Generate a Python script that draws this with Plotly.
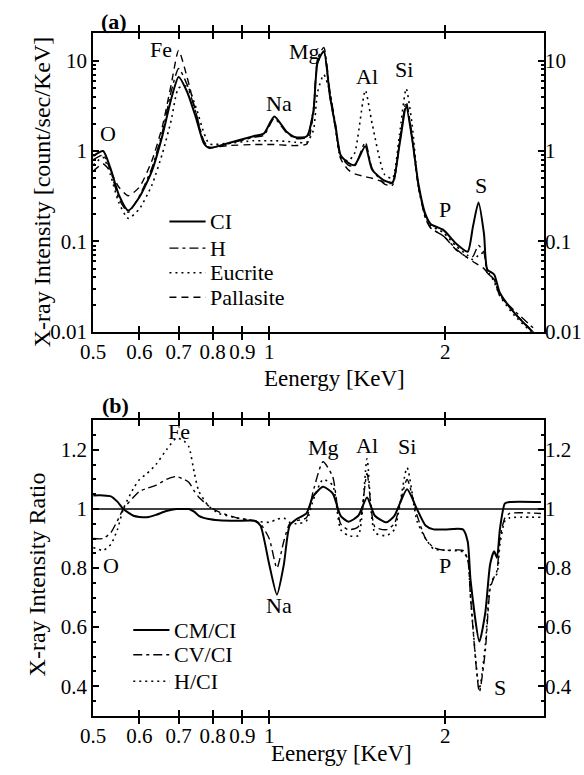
import math
import plotly.graph_objects as go

# ---------------- data: panel (a) X-ray intensity [count/sec/keV] ----------------
E_a = [0.500, 0.520, 0.535, 0.553, 0.574, 0.600, 0.630, 0.657, 0.680, 0.700,
       0.724, 0.750, 0.773, 0.790, 0.850, 0.940, 0.980, 1.020, 1.070, 1.110,
       1.160, 1.190, 1.210, 1.240, 1.270, 1.300, 1.325, 1.365, 1.400, 1.460,
       1.500, 1.575, 1.625, 1.670, 1.715, 1.755, 1.800, 1.850, 1.890, 1.985,
       2.090, 2.185, 2.230, 2.280, 2.330, 2.360, 2.425, 2.480, 2.630, 2.830]
CI = [0.88, 1.00, 0.65, 0.33, 0.22, 0.31, 0.60, 1.50, 3.8, 6.6,
      4.5, 2.3, 1.22, 1.08, 1.22, 1.46, 1.57, 2.41, 1.65, 1.42,
      1.46, 2.74, 9.6, 12.7, 4.1, 1.78, 0.90, 0.74, 0.70, 1.13,
      0.62, 0.47, 0.45, 1.16, 3.1, 1.39, 0.43, 0.20, 0.155, 0.134,
      0.094, 0.077, 0.144, 0.27, 0.121, 0.049, 0.043, 0.027, 0.016, 0.0098]
H = [0.80, 0.90, 0.62, 0.30, 0.21, 0.32, 0.65, 1.65, 4.6, 8.2,
     5.4, 2.6, 1.30, 1.10, 1.20, 1.42, 1.50, 2.30, 1.60, 1.38,
     1.42, 2.90, 10.5, 14.0, 4.6, 1.90, 0.88, 0.70, 0.68, 1.25,
     0.64, 0.43, 0.42, 1.25, 3.5, 1.50, 0.40, 0.18, 0.14, 0.115,
     0.082, 0.066, 0.068, 0.090, 0.075, 0.045, 0.038, 0.025, 0.017, 0.011]
EUCRITE = [0.70, 0.85, 0.55, 0.27, 0.18, 0.23, 0.42, 0.95, 2.2, 5.0,
           5.2, 3.0, 1.60, 1.20, 1.22, 1.30, 1.30, 1.30, 1.28, 1.25,
           1.25, 1.70, 4.5, 7.0, 4.5, 1.70, 0.85, 0.78, 0.95, 4.7,
           2.0, 0.55, 0.50, 1.5, 4.9, 2.0, 0.40, 0.19, 0.15, 0.125,
           0.088, 0.070, 0.063, 0.070, 0.075, 0.048, 0.036, 0.025, 0.015, 0.0095]
PALLASITE = [0.60, 0.72, 0.60, 0.40, 0.32, 0.40, 0.78, 1.9, 5.5, 13.0,
             6.5, 2.6, 1.25, 1.10, 1.15, 1.18, 1.18, 1.18, 1.16, 1.15,
             1.20, 2.6, 9.5, 12.5, 4.0, 1.70, 0.82, 0.62, 0.56, 0.52,
             0.50, 0.45, 0.44, 1.2, 3.3, 1.40, 0.40, 0.19, 0.14, 0.115,
             0.080, 0.066, 0.060, 0.055, 0.050, 0.045, 0.038, 0.026, 0.016, 0.010]
NAMES_A = ["CI", "H", "Eucrite", "Pallasite"]

# ---------------- data: panel (b) X-ray intensity ratio ----------------
E_b = [0.500, 0.520, 0.536, 0.550, 0.563, 0.586, 0.600, 0.618, 0.640, 0.667,
       0.694, 0.715, 0.729, 0.745, 0.758, 0.788, 0.820, 0.880, 0.944, 0.966,
       1.000, 1.031, 1.059, 1.084, 1.114, 1.158, 1.189, 1.236, 1.284, 1.325,
       1.366, 1.420, 1.470, 1.516, 1.587, 1.637, 1.721, 1.789, 1.851, 1.910,
       2.000, 2.144, 2.185, 2.210, 2.288, 2.342, 2.387, 2.425, 2.452, 2.481,
       2.530, 2.578, 2.916]
CM_CI = [1.046, 1.046, 1.043, 1.025, 1.000, 0.977, 0.973, 0.972, 0.980, 0.993,
         1.000, 1.000, 1.000, 0.990, 0.977, 0.966, 0.962, 0.960, 0.960, 0.944,
         0.813, 0.710, 0.810, 0.944, 0.966, 0.985, 1.043, 1.075, 1.053, 0.977,
         0.957, 0.977, 1.039, 0.977, 0.955, 0.977, 1.067, 1.000, 0.944, 0.931,
         0.931, 0.931, 0.890, 0.758, 0.551, 0.649, 0.813, 0.857, 0.835, 0.933,
         1.019, 1.024, 1.024]
CV_CI = [0.90, 0.90, 0.92, 0.96, 1.00, 1.04, 1.06, 1.07, 1.08, 1.10,
         1.11, 1.10, 1.09, 1.06, 1.04, 1.01, 0.99, 0.97, 0.96, 0.95,
         0.90, 0.80, 0.89, 0.95, 0.96, 0.97, 1.06, 1.16, 1.11, 0.95,
         0.93, 0.94, 1.12, 0.94, 0.93, 0.95, 1.10, 0.98, 0.90, 0.87,
         0.86, 0.86, 0.83, 0.70, 0.38, 0.52, 0.73, 0.77, 0.79, 0.90,
         0.97, 0.985, 0.985]
H_CI = [0.87, 0.86, 0.88, 0.93, 1.00, 1.07, 1.10, 1.12, 1.15, 1.20,
        1.24, 1.23, 1.21, 1.12, 1.06, 1.01, 0.985, 0.97, 0.96, 0.957,
        0.955, 0.965, 0.970, 0.955, 0.950, 0.960, 1.03, 1.10, 1.08, 0.93,
        0.91, 0.91, 1.17, 0.92, 0.91, 0.93, 1.14, 0.96, 0.90, 0.865,
        0.86, 0.855, 0.83, 0.70, 0.39, 0.54, 0.74, 0.77, 0.78, 0.88,
        0.96, 0.97, 0.972]
NAMES_B = ["CM/CI", "CV/CI", "H/CI"]
REF_LEVEL = 1.0

# element labels
EL_A = ["O", "Fe", "Na", "Mg", "Al", "Si", "P", "S"]
EL_A_X = [0.530, 0.652, 1.040, 1.149, 1.470, 1.700, 2.000, 2.300]
EL_A_Y = [1.57, 13.4, 3.35, 12.7, 6.6, 7.9, 0.227, 0.414]
EL_B = ["O", "Fe", "Na", "Mg", "Al", "Si", "P", "S"]
EL_B_X = [0.536, 0.700, 1.040, 1.240, 1.470, 1.720, 2.000, 2.480]
EL_B_Y = [0.807, 1.262, 0.672, 1.207, 1.216, 1.213, 0.807, 0.397]

X_TICKS = [0.5, 0.6, 0.7, 0.8, 0.9, 1, 2]
X_TICKTEXT = ["0.5", "0.6", "0.7", "0.8", "0.9", "1", "2"]
YA_TICKS = [0.01, 0.1, 1, 10]
YA_TICKTEXT = ["0.01", "0.1", "1", "10"]
YB_TICKS = [0.4, 0.6, 0.8, 1.0, 1.2]
YB_TICKTEXT = ["0.4", "0.6", "0.8", "1", "1.2"]

# ---------------- figure ----------------
W, HGT = 584, 775
FONT = "'Liberation Serif', 'Times New Roman', 'DejaVu Serif', serif"
FS_TICK = 21
FS_LAB = 22
FS_TITLE = 24
FS_XTITLE = 23
FS_LEG = 22

def px_x(p):
    return p / W

def px_y(p):
    return 1 - p / HGT

XDOM = [px_x(82), px_x(543)]
YDOM_A = [px_y(337), px_y(34)]
YDOM_B = [px_y(727), px_y(427)]
XRANGE = [math.log10(0.5), math.log10(2.95)]

fig = go.Figure()

styles_a = [dict(color="black", width=2.0),
            dict(color="black", width=1.4, dash="9px,4px,3px,4px"),
            dict(color="black", width=1.6, dash="2px,4px"),
            dict(color="black", width=1.4, dash="7px,5px")]
for name, ys, st in zip(NAMES_A, [CI, H, EUCRITE, PALLASITE], styles_a):
    fig.add_trace(go.Scatter(x=E_a, y=ys, mode="lines", name=name, showlegend=False,
                             line=dict(shape="spline", smoothing=0.6, **st),
                             xaxis="x", yaxis="y"))

styles_b = [dict(color="black", width=2.0),
            dict(color="black", width=1.4, dash="9px,4px,3px,4px"),
            dict(color="black", width=1.6, dash="2px,4px")]
for name, ys, st in zip(NAMES_B, [CM_CI, CV_CI, H_CI], styles_b):
    fig.add_trace(go.Scatter(x=E_b, y=ys, mode="lines", name=name, showlegend=False,
                             line=dict(shape="spline", smoothing=0.6, **st),
                             xaxis="x2", yaxis="y2"))

# empty traces to activate the right-side label axes
fig.add_trace(go.Scatter(x=[], y=[], xaxis="x", yaxis="y3", showlegend=False))
fig.add_trace(go.Scatter(x=[], y=[], xaxis="x2", yaxis="y4", showlegend=False))

shapes = [dict(type="line", xref="x2 domain", x0=0, x1=1, yref="y2",
               y0=REF_LEVEL, y1=REF_LEVEL, line=dict(color="black", width=1.5))]

axis_common = dict(showline=True, linewidth=2, linecolor="black", showgrid=False,
                   zeroline=False, ticks="inside", ticklen=6, tickwidth=1.5,
                   tickcolor="black",
                   tickfont=dict(family=FONT, size=FS_TICK, color="black"))

xax = dict(type="log", range=XRANGE, domain=XDOM, tickmode="array",
           tickvals=X_TICKS, ticktext=X_TICKTEXT, mirror="allticks", **axis_common)
minor_log = [m * 10 ** k for k in range(-2, 2) for m in range(2, 10)]

fig.update_layout(
    width=W, height=HGT, margin=dict(l=0, r=0, t=0, b=0),
    paper_bgcolor="white", plot_bgcolor="white",
    font=dict(family=FONT, size=FS_TICK, color="black"),
    showlegend=False,
    xaxis=dict(anchor="y", **xax),
    xaxis2=dict(anchor="y2", **xax),
    yaxis=dict(type="log", range=[-2, math.log10(20)], domain=YDOM_A, anchor="x",
               tickmode="array", tickvals=YA_TICKS, ticktext=YA_TICKTEXT,
               mirror="allticks",
               minor=dict(tickmode="array", tickvals=minor_log, ticks="inside",
                          ticklen=3, tickcolor="black"),
               **axis_common),
    yaxis3=dict(type="log", range=[-2, math.log10(20)], overlaying="y", side="right",
                anchor="x", tickmode="array", tickvals=YA_TICKS, ticktext=YA_TICKTEXT,
                showline=False, showgrid=False, zeroline=False, ticks="",
                tickfont=dict(family=FONT, size=FS_TICK, color="black")),
    yaxis2=dict(range=[0.3, 1.3], domain=YDOM_B, anchor="x2", tickmode="array",
                tickvals=YB_TICKS, ticktext=YB_TICKTEXT, mirror="allticks",
                minor=dict(dtick=0.05, ticks="inside", ticklen=3, tickcolor="black"),
                **axis_common),
    yaxis4=dict(range=[0.3, 1.3], overlaying="y2", side="right", anchor="x2",
                tickmode="array", tickvals=YB_TICKS, ticktext=YB_TICKTEXT,
                showline=False, showgrid=False, zeroline=False, ticks="",
                tickfont=dict(family=FONT, size=FS_TICK, color="black")),
)

ann = []
for t, x, y in zip(EL_A, EL_A_X, EL_A_Y):
    ann.append(dict(x=math.log10(x), y=math.log10(y), xref="x", yref="y", text=t,
                    showarrow=False, xanchor="center", yanchor="middle",
                    font=dict(family=FONT, size=FS_LAB)))
for t, x, y in zip(EL_B, EL_B_X, EL_B_Y):
    ann.append(dict(x=math.log10(x), y=y, xref="x2", yref="y2", text=t,
                    showarrow=False, xanchor="center", yanchor="middle",
                    font=dict(family=FONT, size=FS_LAB)))

def paper_text(text, x, y, size, angle=0, xanchor="center"):
    return dict(x=px_x(x), y=px_y(y), xref="paper", yref="paper", text=text,
                textangle=angle, showarrow=False, xanchor=xanchor, yanchor="middle",
                font=dict(family=FONT, size=size))

ann += [
    paper_text("<b>(a)</b>", 103, 22, FS_LAB),
    paper_text("<b>(b)</b>", 105, 412, FS_LAB),
    paper_text("X-ray Intensity [count/sec/KeV]", 30, 195, FS_TITLE, -90),
    paper_text("X-ray Intensity Ratio", 25, 583, FS_TITLE, -90),
    paper_text("Eenergy [KeV]", 329, 384, FS_XTITLE),
    paper_text("Eenergy [KeV]", 336, 765, FS_XTITLE),
]

# legend keys (panel a and panel b)
def legend_block(names, styles, x0, x1, xtext, rows):
    for name, st, yrow in zip(names, styles, rows):
        shapes.append(dict(type="line", xref="paper", yref="paper",
                           x0=px_x(x0), x1=px_x(x1), y0=px_y(yrow), y1=px_y(yrow),
                           line=st))
        ann.append(paper_text(name, xtext, yrow, FS_LEG, xanchor="left"))

legend_block(NAMES_A, styles_a, 160, 197, 199, [225, 252, 277, 302])
legend_block(NAMES_B, styles_b, 123, 160, 163, [640, 665, 692])

fig.update_layout(annotations=ann, shapes=shapes)

fig.write_html("out.html")
